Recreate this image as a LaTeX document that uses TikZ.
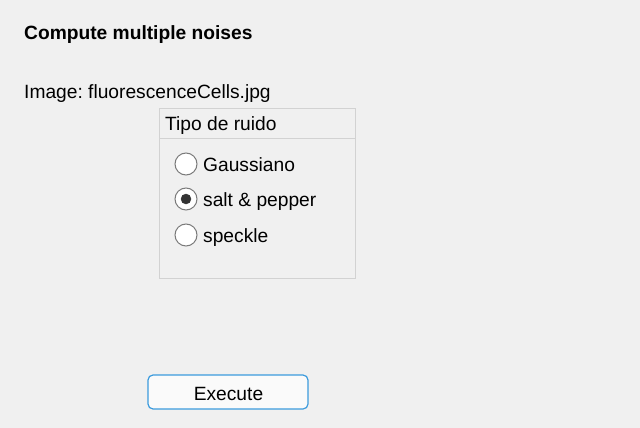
\documentclass[tikz,border=0pt]{standalone}
\usepackage{fontspec}
\setmainfont{Liberation Sans}
\usepackage{tikz}
\frenchspacing

\definecolor{winbg}{HTML}{F0F0F0}
\definecolor{panelline}{HTML}{D2D2D2}
\definecolor{radioline}{HTML}{7A7A7A}
\definecolor{btnline}{HTML}{3C9BDD}

\tikzset{
  label text/.style={inner sep=0pt, anchor=base west, font=\fontsize{19.2}{23}\selectfont},
  radio/.style={draw=radioline, fill=white, line width=1pt},
}

\begin{document}
\begin{tikzpicture}[x=1pt, y=-1pt]
            \fill[winbg] (0, 0) rectangle (640, 428);
            \useasboundingbox (0, 0) rectangle (640, 428);

            \node[label text, font=\fontsize{19.2}{23}\selectfont\bfseries] (title) at (24, 40) {Compute multiple noises};
            \node[label text] (image) at (24, 99) {Image: fluorescenceCells.jpg};

            % panel
            \draw[panelline, line width=1pt] (159, 108) rectangle (355, 278);
            \draw[panelline, line width=1pt] (159, 138) -- (355, 138);
            \node[label text] (panel) at (165, 130) {Tipo de ruido};

            \foreach \y/\txt/\name in {164/Gaussiano/gauss, 199/salt \& pepper/salt, 235/speckle/speckle} {
                \draw[radio] (186, \y) circle (11);
                \node[label text] (\name) at (203, \y + 7) {\txt};
            }
            \filldraw[black!80] (186, 199) circle (5);

            % button
            \draw[btnline, fill=white!98!black, line width=1.2pt, rounded corners=5pt] (148, 375) rectangle (308, 409);
            \node[label text, anchor=base] (exec) at (228.5, 400) {Execute};
        \end{tikzpicture}
\end{document}
